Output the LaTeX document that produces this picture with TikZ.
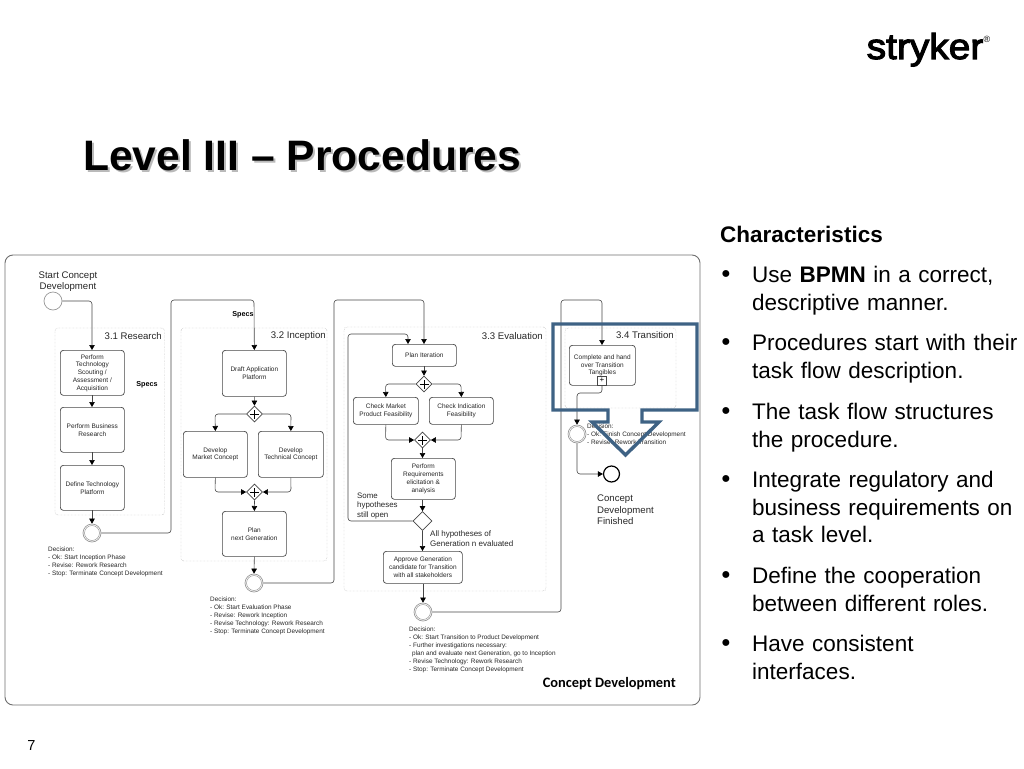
\documentclass[tikz,border=0pt]{standalone}
\usepackage{fontspec}
\setmainfont{Liberation Sans}
\newfontfamily\calib{Carlito}
\newfontfamily\logof[FakeBold=3,FakeStretch=1.08]{Liberation Sans}
\usetikzlibrary{arrows.meta,calc,shapes.geometric}
\definecolor{framec}{RGB}{110,110,110}
\definecolor{linec}{RGB}{70,70,70}
\definecolor{calloutc}{RGB}{62,98,132}
\tikzset{
  flow/.style={draw=linec,line width=.6pt,rounded corners=3pt,-{Triangle[length=5pt,width=5.5pt,black]}},
  task/.style={draw=linec,line width=.7pt,rounded corners=3pt,fill=white,align=center,font=\fontsize{6.5}{7.75}\selectfont,inner sep=0pt,anchor=north west,text=black!85},
  grp/.style={draw=black!40,densely dotted,line width=.4pt,rounded corners=3pt},
  gate/.style={draw=linec,line width=.7pt,fill=white},
  evt/.style={circle,draw=black!40,line width=.7pt,fill=white,minimum size=18pt,inner sep=0pt},
  evti/.style={circle,draw=black!40,line width=.5pt,minimum size=15pt,inner sep=0pt},
  lab/.style={font=\fontsize{9.6}{11.6}\selectfont,text=black!85,inner sep=0pt},
  dec/.style={font=\fontsize{6.4}{8}\selectfont,align=left,anchor=north west,inner sep=0pt,text=black!85},
  specs/.style={font=\fontsize{7.2}{8}\selectfont\bfseries,inner sep=0pt},
  bul/.style={font=\fontsize{22.5}{27.6}\selectfont,align=left,inner sep=0pt,text width=272pt},
}
\newcommand{\tbox}[6]{\node[task,minimum width=#4pt-#2pt,minimum height=#5pt-#3pt] (#1) at (#2,#3) {#6};}
\newcommand{\pgate}[3]{%
  \node[diamond,aspect=1,gate,minimum size=16pt,inner sep=0pt] (#1) at (#2,#3) {};
  \draw[line width=.9pt,black] ($(#1)+(-4.5pt,0)$) -- ($(#1)+(4.5pt,0)$) ($(#1)+(0,-4.5pt)$) -- ($(#1)+(0,4.5pt)$);}
\begin{document}
\begin{tikzpicture}[x=1pt,y=-1pt]
\useasboundingbox (0,0) rectangle (1024,768);
% title
\node[anchor=west,inner sep=0pt,font=\fontsize{42.6}{46}\selectfont\bfseries,text=black!45,opacity=.6] (titleshadow) at (85,157) {Level III – Procedures};
\node[anchor=west,inner sep=0pt,font=\fontsize{42.6}{46}\selectfont\bfseries] (title) at (83,155) {Level III – Procedures};
% logo
\node[inner sep=0pt,font=\logof\fontsize{36}{38}\selectfont,anchor=base] (logo) at (925,59) {stryker};
\node[inner sep=0pt,font=\fontsize{9}{9}\selectfont] (reg) at (987,39) {®};
% frame
\draw[draw=framec,line width=.9pt,rounded corners=8pt] (5,255) rectangle (700,705);
% groups
\draw[grp] (55,328) rectangle (164.5,515);
\draw[grp] (181,328) rectangle (327,561);
\draw[grp] (344,327) rectangle (546,591);
\draw[grp] (565,328) rectangle (676,408);
\node[lab,anchor=east] (l1) at (162,336.5) {3.1 Research};
\node[lab,anchor=east] (l2) at (326,336.5) {3.2 Inception};
\node[lab,anchor=east] (l3) at (543,336.5) {3.3 Evaluation};
\node[lab,anchor=east] (l4) at (674,335.5) {3.4 Transition};
% start
\node[evt] (start) at (53,301) {};
\node[lab,align=center] (startl) at (68,281.5) {Start Concept\\Development};
% research
\tbox{t1}{60}{350}{124}{395}{Perform\\Technology\\Scouting /\\Assessment /\\Acquisition}
\tbox{t2}{60}{407}{124}{452}{Perform Business\\Research}
\tbox{t3}{60}{465}{124}{510}{Define Technology\\Platform}
\node[evt] (e1) at (92,533) {};
\node[evti] (e1i) at (92,533) {};
\node[specs] (s1) at (147,385) {Specs};
\node[dec] (d1) at (48,547) {Decision:\\- Ok: Start Inception Phase\\- Revise: Rework Research\\- Stop: Terminate Concept Development};
% inception
\tbox{t4}{222}{350}{286}{396}{Draft Application\\Platform}
\pgate{g1}{254.5}{414}
\tbox{t5}{183}{431}{247}{477}{Develop\\Market Concept}
\tbox{t6}{258}{431}{323}{477}{Develop\\Technical Concept}
\pgate{g2}{254.5}{492}
\tbox{t7}{222}{511}{286}{556}{Plan\\next Generation}
\node[evt] (e2) at (254,583) {};
\node[evti] (e2i) at (254,583) {};
\node[specs] (s2) at (243,315) {Specs};
\node[dec] (d2) at (210,596.5) {Decision:\\- Ok: Start Evaluation Phase\\- Revise: Rework Inception\\- Revise Technology: Rework Research\\- Stop: Terminate Concept Development};
% evaluation
\tbox{t8}{392}{344}{456}{366}{Plan Iteration}
\pgate{g3}{424}{384}
\tbox{t9}{353}{397}{418}{424}{Check Market\\Product Feasibility}
\tbox{t10}{429}{397}{493}{424}{Check Indication\\Feasibility}
\pgate{g4}{422.5}{440}
\tbox{t11}{391}{458}{455}{499}{Perform\\Requirements\\elicitation \&\\analysis}
\node[diamond,aspect=1,gate,minimum size=19pt,inner sep=0pt] (g5) at (422.5,521) {};
\tbox{t12}{383}{551}{462}{583}{Approve Generation\\candidate for Transition\\with all stakeholders}
\node[evt] (e3) at (423,612) {};
\node[evti] (e3i) at (423,612) {};
\node[lab,anchor=north west,align=left,font=\fontsize{7.9}{9.7}\selectfont] (h1) at (357,492.5) {Some\\hypotheses\\still open};
\node[lab,anchor=north west,align=left,font=\fontsize{8}{10.3}\selectfont] (h2) at (430,530) {All hypotheses of\\Generation n evaluated};
\node[dec] (d3) at (409,626.5) {Decision:\\- Ok: Start Transition to Product Development\\- Further investigations necessary:\\\hspace*{3pt}plan and evaluate next Generation, go to Inception\\- Revise Technology: Rework Research\\- Stop: Terminate Concept Development};
% transition
\tbox{t13}{569}{345}{635}{385}{Complete and hand\\over Transition\\Tangibles}
\node[draw=linec,line width=.5pt,fill=white,minimum size=9pt,inner sep=0pt,font=\fontsize{8}{8}\selectfont] (plus) at (602,380.5) {+};
\node[evt] (e4) at (577,434) {};
\node[evti] (e4i) at (577,434) {};
\node[circle,draw=black,line width=1.2pt,fill=white,minimum size=16pt,inner sep=0pt] (fin) at (611.5,474) {};
\node[dec] (d4) at (587,424) {Decision:\\- Ok: Finish Concept Development\\- Revise: Rework Transition};
\node[lab,anchor=north west,align=left,font=\fontsize{9.6}{11.6}\selectfont] (finl) at (597,494.5) {Concept\\Development\\Finished};
% connectors
\draw[flow] (start.east) -- (92,301) -- (92,350);
\draw[flow] (92,395) -- (92,407);
\draw[flow] (92,452) -- (92,465);
\draw[flow] (92,510) -- (e1.north);
\draw[flow] (e1.east) -- (171,533) -- (171,300) -- (254,300) -- (t4.north);
\draw[flow] (t4.south) -- (g1.north);
\draw[flow] (g1.west) -- (215,414) -- (t5.north);
\draw[flow] (g1.east) -- (291,414) -- (t6.north);
\draw[flow] (t5.south) -- (215,492) -- (g2.west);
\draw[flow] (t6.south) -- (291,492) -- (g2.east);
\draw[flow] (g2.south) -- (t7.north);
\draw[flow] (t7.south) -- (e2.north);
\draw[flow] (e2.east) -- (334,583) -- (334,300) -- (424,300) -- (424,344);
\draw[flow] (424,366) -- (g3.north);
\draw[flow] (g3.west) -- (385.5,384) -- (t9.north);
\draw[flow] (g3.east) -- (461,384) -- (t10.north);
\draw[flow] (t9.south) -- (385.5,440) -- (g4.west);
\draw[flow] (t10.south) -- (461,440) -- (g4.east);
\draw[flow] (g4.south) -- (g4 |- t11.north);
\draw[flow] (g5 |- t11.south) -- (g5.north);
\draw[flow] (g5.west) -- (348,521) -- (348,334) -- (408,334) -- (408,344);
\draw[flow] (g5.south) -- (g5 |- t12.north);
\draw[flow] (e3 |- t12.south) -- (e3.north);
\draw[flow] (e3.east) -- (561,612) -- (561,300) -- (602,300) -- (602,345);
\draw[flow] (plus.south) -- (602,393) -- (577,393) -- (e4.north);
\draw[flow] (e4.south) -- (577,474) -- (fin.west);
% callout
\draw[draw=calloutc,line width=3.4pt,miter limit=10] (553,324) -- (697,324) -- (697,410) -- (642,410) -- (642,422) -- (659,422) -- (625.5,455) -- (592,422) -- (608,422) -- (608,410) -- (553,410) -- cycle;
% footer
\node[inner sep=0pt,anchor=east,font=\calib\bfseries\fontsize{14.4}{16}\selectfont] (cd) at (676,684) {Concept Development};
\node[inner sep=0pt,font=\fontsize{14.5}{16}\selectfont] (pg) at (31.5,745) {7};
% right
\node[inner sep=0pt,anchor=base west,font=\fontsize{22.5}{26}\selectfont\bfseries] (ch) at (720,242) {Characteristics};
\foreach \n/\yy/\tx in {
 a/275/{Use \textbf{BPMN} in a correct,\\descriptive manner.},
 b/343/{Procedures start with their\\task flow description.},
 c/412/{The task flow structures\\the procedure.},
 d/480/{Integrate regulatory and\\business requirements on\\a task level.},
 e/576/{Define the cooperation\\between different roles.},
 f/644/{Have consistent\\interfaces.}}{
  \node[inner sep=0pt,font=\fontsize{16}{16}\selectfont] (dot\n) at (726,\yy) {●};
  \node[bul,anchor=base west] (bl\n) at (752,\yy+7.5) {\tx};
}
\end{tikzpicture}
\end{document}
